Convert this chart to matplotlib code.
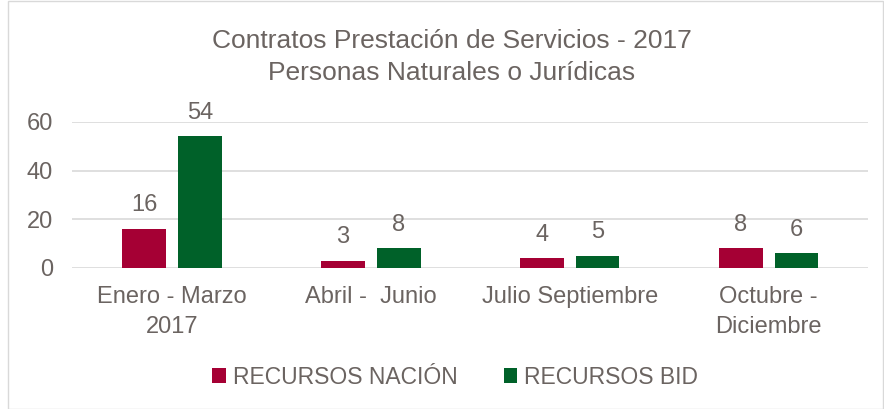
import matplotlib.pyplot as plt
import numpy as np

plt.rcParams['font.family'] = ['Liberation Sans', 'DejaVu Sans']

categorias = ['Enero - Marzo\n2017', 'Abril -  Junio', 'Julio Septiembre', 'Octubre -\nDiciembre']
recursos_nacion = [16, 3, 4, 8]
recursos_bid = [54, 8, 5, 6]

texto = '#6B6461'
rojo = '#A50034'
verde = '#006129'

fig = plt.figure(figsize=(8.84, 4.09), dpi=100)
ax = fig.add_axes([0.082, 0.345, 0.9, 0.357])

x = np.arange(len(categorias))
w = 0.22
b1 = ax.bar(x - 0.14, recursos_nacion, w, color=rojo, label='RECURSOS NACIÓN', zorder=3)
b2 = ax.bar(x + 0.14, recursos_bid, w, color=verde, label='RECURSOS BID', zorder=3)

for bars in (b1, b2):
    ax.bar_label(bars, padding=9, fontsize=17, color=texto)

ax.set_xlim(-0.5, 3.5)
ax.set_ylim(0, 60)
ax.set_yticks([0, 20, 40, 60])
ax.set_xticks(x)
ax.set_xticklabels(categorias, linespacing=1.45)
ax.tick_params(axis='both', length=0, labelsize=17, labelcolor=texto)
ax.tick_params(axis='y', pad=14)
ax.tick_params(axis='x', pad=13)
ax.grid(axis='y', color='#D9D9D9', linewidth=1.2, zorder=0)
for s in ax.spines.values():
    s.set_visible(False)

fig.text(0.511, 0.86, 'Contratos Prestación de Servicios - 2017\nPersonas Naturales o Jurídicas',
         ha='center', va='center', fontsize=19, color=texto, linespacing=1.4)

fig.legend(loc='center', bbox_to_anchor=(0.515, 0.078), ncol=2, frameon=False,
           fontsize=16.5, labelcolor=texto, handlelength=0.6, handleheight=0.6,
           handletextpad=0.3, columnspacing=2.0)

fig.patches.append(plt.Rectangle((0.009, 0.0), 0.99, 0.998, transform=fig.transFigure,
                                 fill=False, edgecolor='#D9D9D9', linewidth=1))

plt.savefig('out.png', dpi=100)
plt.close()
